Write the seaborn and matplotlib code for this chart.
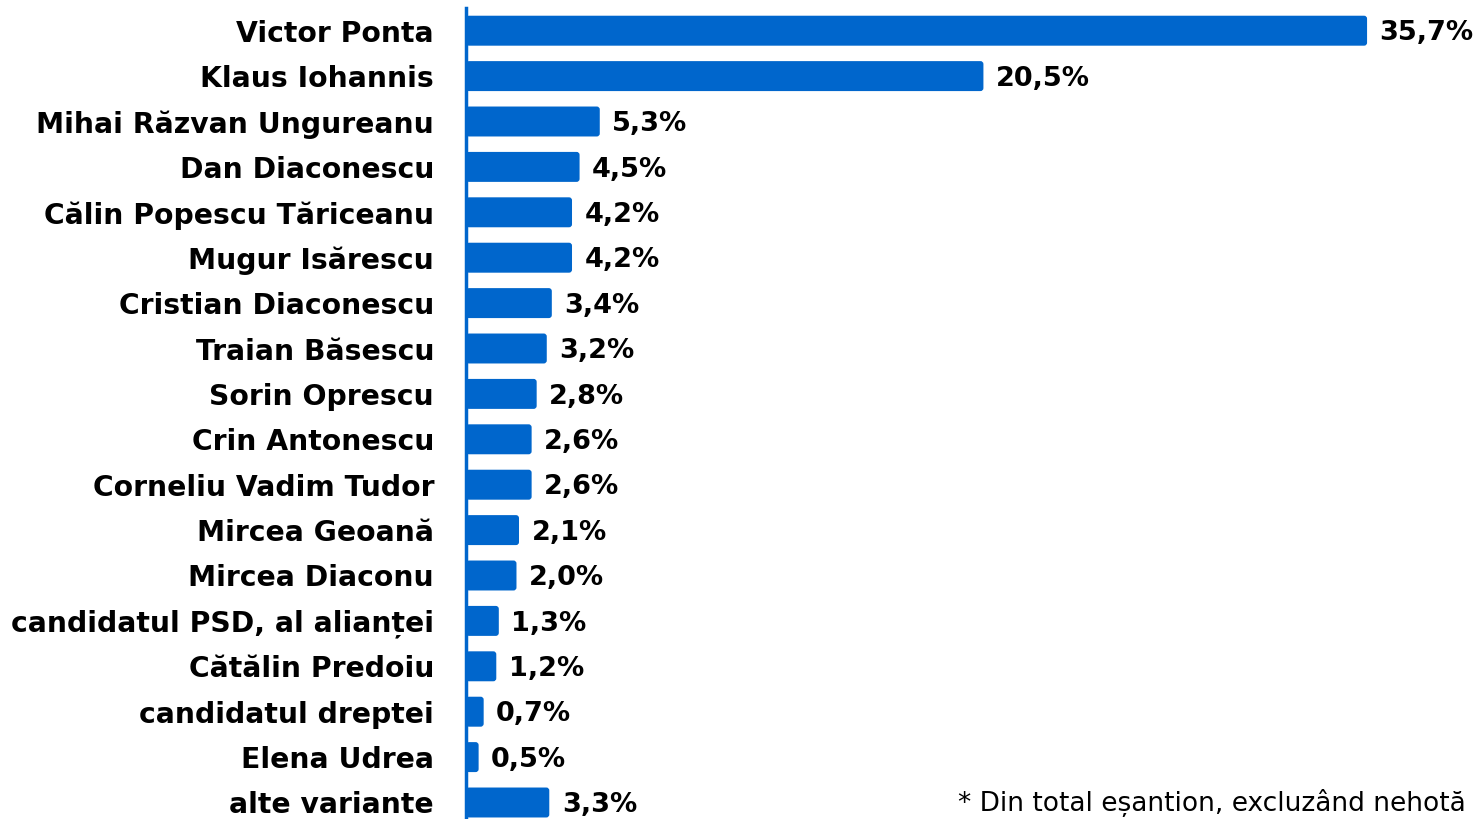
import matplotlib
matplotlib.use("Agg")
import matplotlib.pyplot as plt
from matplotlib.patches import FancyBboxPatch
import seaborn as sns
import pandas as pd

candidates = ["Victor Ponta", "Klaus Iohannis", "Mihai Răzvan Ungureanu", "Dan Diaconescu",
              "Călin Popescu Tăriceanu", "Mugur Isărescu", "Cristian Diaconescu", "Traian Băsescu",
              "Sorin Oprescu", "Crin Antonescu", "Corneliu Vadim Tudor", "Mircea Geoană",
              "Mircea Diaconu", "candidatul PSD, al alianței", "Cătălin Predoiu",
              "candidatul dreptei", "Elena Udrea", "alte variante"]
values = [35.7, 20.5, 5.3, 4.5, 4.2, 4.2, 3.4, 3.2, 2.8, 2.6, 2.6, 2.1, 2.0, 1.3, 1.2, 0.7, 0.5, 3.3]
value_labels = ["35,7%", "20,5%", "5,3%", "4,5%", "4,2%", "4,2%", "3,4%", "3,2%", "2,8%", "2,6%",
                "2,6%", "2,1%", "2,0%", "1,3%", "1,2%", "0,7%", "0,5%", "3,3%"]
footnote = "* Din total eșantion, excluzând nehotă"

sns.set_theme(style="white")
fam = ["DejaVu Sans"]
plt.rcParams["font.family"] = fam

df = pd.DataFrame({"cand": candidates, "val": values})
W, H = 1477, 819
fig = plt.figure(figsize=(W / 100, H / 100), dpi=100)
n = len(candidates)
step = 45.4
top = 8
ax_h = n * step
px_per_unit = 25.24
ax = fig.add_axes([466 / W, (H - top - ax_h) / H, (W - 466) / W, ax_h / H])

sns.barplot(data=df, x="val", y="cand", orient="h", color="#0066CC", saturation=1,
            width=0.66, ax=ax, edgecolor="none")
ax.set_xlim(0, (W - 466) / px_per_unit)
ax.set_ylim(n - 0.5, -0.5)

# round bar corners slightly
r_px = 3.0
xr = r_px / px_per_unit
aspect = (1 / step) / (1 / px_per_unit)
for p in list(ax.patches):
    x0, y0, w, h = p.get_x(), p.get_y(), p.get_width(), p.get_height()
    p.remove()
    ax.add_patch(FancyBboxPatch((x0, y0), w, h,
                                boxstyle=f"round,pad=0,rounding_size={xr}",
                                mutation_aspect=aspect, facecolor="#0066CC",
                                edgecolor="none", zorder=1))

ax.set_xlabel("")
ax.set_ylabel("")
ax.set_xticks([])
for s in ["top", "right", "bottom"]:
    ax.spines[s].set_visible(False)
ax.spines["left"].set_color("#0066CC")
ax.spines["left"].set_linewidth(2.5)
ax.spines["left"].set_zorder(3)
ax.tick_params(axis="y", length=0, pad=23)
for lab in ax.get_yticklabels():
    lab.set_fontsize(20.3)
    lab.set_fontweight("bold")
    lab.set_color("black")

for i, (v, t) in enumerate(zip(values, value_labels)):
    ax.annotate(t, xy=(v, i), xytext=(9, -2), textcoords="offset points",
                va="center", ha="left", fontsize=19.5, fontweight="bold", color="black")

fig.text(958 / W, (H - 803) / H, footnote, fontsize=19, color="black", va="center",
         ha="left")

fig.savefig("out.png", dpi=100)
